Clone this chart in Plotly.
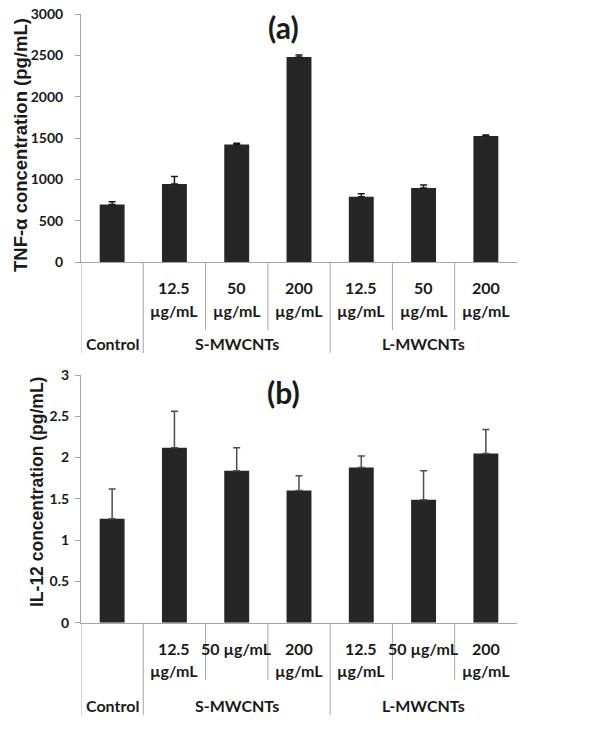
import plotly.graph_objects as go

# ---------------- data ----------------
groups = ["Control", "S-MWCNTs", "S-MWCNTs", "S-MWCNTs", "L-MWCNTs", "L-MWCNTs", "L-MWCNTs"]
group_labels = ["Control", "S-MWCNTs", "L-MWCNTs"]
group_centers = [0, 2, 5]

a_line1 = ["", "12.5", "50", "200", "12.5", "50", "200"]
a_line2 = ["", "µg/mL", "µg/mL", "µg/mL", "µg/mL", "µg/mL", "µg/mL"]
b_line1 = ["", "12.5", "50 µg/mL", "200", "12.5", "50 µg/mL", "200"]
b_line2 = ["", "µg/mL", "", "µg/mL", "µg/mL", "", "µg/mL"]

tnf_values = [695, 945, 1420, 2480, 790, 895, 1525]
tnf_errors = [35, 90, 15, 25, 35, 35, 12]

il12_values = [1.26, 2.12, 1.84, 1.60, 1.88, 1.49, 2.05]
il12_errors = [0.36, 0.44, 0.28, 0.18, 0.14, 0.35, 0.29]

tnf_ticks = [0, 500, 1000, 1500, 2000, 2500, 3000]
tnf_ticktext = ["0", "500", "1000", "1500", "2000", "2500", "3000"]
il12_ticks = [0, 0.5, 1, 1.5, 2, 2.5, 3]
il12_ticktext = ["0", "0.5", "1", "1.5", "2", "2.5", "3"]

# ---------------- layout helpers ----------------
# body margin is removed by a post script, so figure pixels == page pixels
W, H = 600, 729
def px_x(px):
    return px / W
def py(px):
    return 1 - px / H

positions = list(range(len(groups)))
BAR = "#262626"
AXC = "#a6a6a6"
LABEL_FONT = dict(family="Lato", size=16, color="#1a1a1a", weight="bold")
TICK_FONT = dict(family="Lato", size=14, color="#1a1a1a", weight="bold")
TITLE_FONT = dict(family="Liberation Sans", size=17, color="#1a1a1a", weight="bold")

fig = go.Figure()
fig.add_trace(go.Bar(
    x=positions, y=tnf_values, width=0.4, marker=dict(color=BAR, line=dict(width=0)),
    error_y=dict(type="data", array=tnf_errors, arrayminus=[0] * len(tnf_errors), symmetric=False,
                 color="#1a1a1a", thickness=1.5, width=3.5),
    xaxis="x", yaxis="y", showlegend=False,
))
fig.add_trace(go.Bar(
    x=positions, y=il12_values, width=0.4, marker=dict(color=BAR, line=dict(width=0)),
    error_y=dict(type="data", array=il12_errors, arrayminus=[0] * len(il12_errors), symmetric=False,
                 color="#4d4d4d", thickness=1.5, width=3.5),
    xaxis="x2", yaxis="y2", showlegend=False,
))

xdom = [px_x(81), px_x(517)]
xcommon = dict(range=[-0.5, 6.5], showticklabels=False, ticks="", showgrid=False, zeroline=False,
               showline=True, linecolor=AXC, linewidth=1, fixedrange=True, automargin=False)
ycommon = dict(showgrid=False, zeroline=False, showline=True, linecolor=AXC, linewidth=1,
               ticks="outside", ticklen=5, tickcolor=AXC, tickfont=TICK_FONT, automargin=False,
               ticklabeloverflow="allow")
fig.update_layout(
    width=W, height=H, margin=dict(l=0, r=0, t=0, b=0, autoexpand=False),
    paper_bgcolor="white", plot_bgcolor="white",
    xaxis=dict(domain=xdom, anchor="y", **xcommon),
    xaxis2=dict(domain=xdom, anchor="y2", **xcommon),
    yaxis=dict(domain=[py(262), py(14)], range=[0, 3000], anchor="x",
               tickvals=tnf_ticks, ticktext=tnf_ticktext, ticklabelstandoff=9, **ycommon),
    yaxis2=dict(domain=[py(622.7), py(375)], range=[0, 3], anchor="x2",
                tickvals=il12_ticks, ticktext=il12_ticktext, ticklabelstandoff=3, **ycommon),
    bargap=0.6,
)

ann = []
shapes = []

def add_table(xref, axis_y, l1, l2, y1, y2, ysub, ygroup, ylabel):
    # vertical separators
    shapes.append(dict(type="line", xref=xref, yref="paper", x0=-0.5, x1=-0.5,
                       y0=py(axis_y), y1=py(ygroup), line=dict(color=AXC, width=1)))
    for xs in [0.5, 3.5]:
        shapes.append(dict(type="line", xref=xref, yref="paper", x0=xs, x1=xs,
                           y0=py(axis_y), y1=py(ygroup), line=dict(color=AXC, width=1)))
    for xs in [1.5, 2.5, 4.5, 5.5]:
        shapes.append(dict(type="line", xref=xref, yref="paper", x0=xs, x1=xs,
                           y0=py(axis_y), y1=py(ysub), line=dict(color=AXC, width=1)))
    for p, t1, t2 in zip(positions, l1, l2):
        if t1:
            ann.append(dict(x=p, y=py(y1), xref=xref, yref="paper", text=t1, showarrow=False,
                            font=LABEL_FONT, xanchor="center", yanchor="middle"))
        if t2:
            ann.append(dict(x=p, y=py(y2), xref=xref, yref="paper", text=t2, showarrow=False,
                            font=LABEL_FONT, xanchor="center", yanchor="middle"))
    for c, g in zip(group_centers, group_labels):
        ann.append(dict(x=c, y=py(ylabel), xref=xref, yref="paper", text=g, showarrow=False,
                        font=LABEL_FONT, xanchor="center", yanchor="middle"))

add_table("x", 262, a_line1, a_line2, 287, 310, 330, 353, 343)
add_table("x2", 622.7, b_line1, b_line2, 648, 670, 680, 715, 705)

# panel titles
PANEL_FONT = dict(family="Lato", size=30, color="#1a1a1a", weight="bold")
ann.append(dict(x=px_x(283), y=py(27), xref="paper", yref="paper", text="(a)", showarrow=False,
                font=PANEL_FONT, xanchor="center", yanchor="middle"))
ann.append(dict(x=px_x(283), y=py(392), xref="paper", yref="paper", text="(b)", showarrow=False,
                font=PANEL_FONT, xanchor="center", yanchor="middle"))
# y-axis titles
ann.append(dict(x=px_x(21), y=py(145), xref="paper", yref="paper", text="TNF-α concentration (pg/mL)",
                showarrow=False, textangle=-90, font=dict(TITLE_FONT, size=18.5),
                xanchor="center", yanchor="middle"))
ann.append(dict(x=px_x(37), y=py(492), xref="paper", yref="paper", text="IL-12 concentration (pg/mL)",
                showarrow=False, textangle=-90, font=dict(TITLE_FONT, size=17.5),
                xanchor="center", yanchor="middle"))

fig.update_layout(annotations=ann, shapes=shapes)
fig.write_html("out.html", config={"displayModeBar": False},
               post_script="document.body.style.margin='0';document.body.style.overflow='hidden';")
